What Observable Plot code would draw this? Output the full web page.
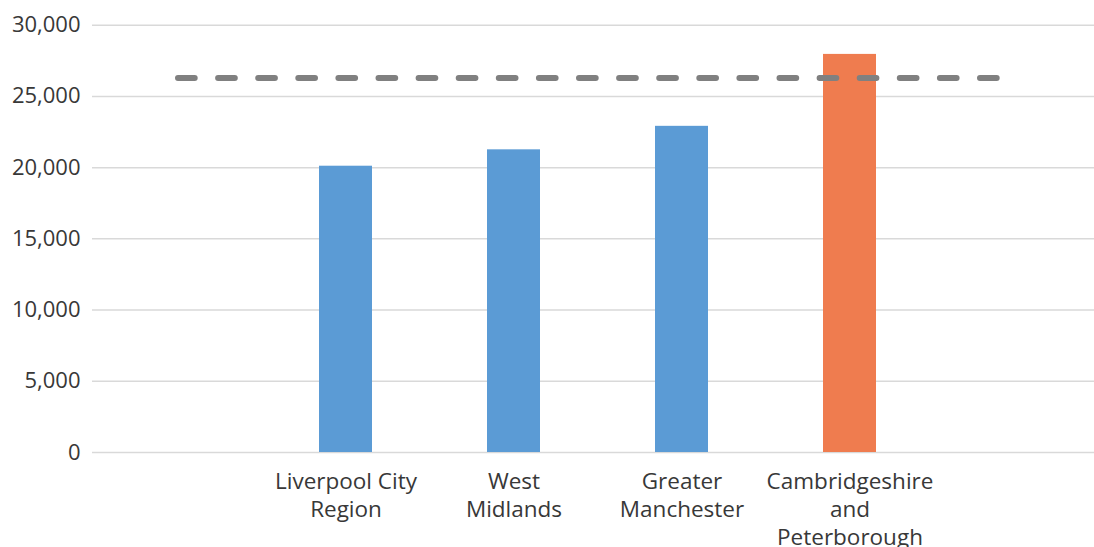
<!DOCTYPE html>
<html><head><meta charset="utf-8">
<script src="https://cdn.jsdelivr.net/npm/d3@7"></script>
<script src="https://cdn.jsdelivr.net/npm/@observablehq/plot@0.6"></script>
<style>body{margin:0;background:#fff;overflow:hidden;}</style>
</head><body><div id="chart"></div>
<script>
const categories = ["", "Liverpool City Region", "West Midlands", "Greater Manchester", "Cambridgeshire and Peterborough", " "];
const tickLabels = ["", "Liverpool City\nRegion", "West\nMidlands", "Greater\nManchester", "Cambridgeshire\nand\nPeterborough", ""];
const values = [null, 20100, 21250, 22900, 27950, null];
const barColors = [null, "#5b9bd5", "#5b9bd5", "#5b9bd5", "#ef7c4f", null];
const benchmark = [26300, 26300, 26300, 26300, 26300, 26300];
const yTicks = [0, 5000, 10000, 15000, 20000, 25000, 30000];

const bars = categories.map((c, i) => ({category: c, value: values[i], color: barColors[i]})).filter(d => d.value != null);
const line = categories.map((c, i) => ({category: c, value: benchmark[i]}));

const chart = Plot.plot({
  width: 1094, height: 547,
  marginLeft: 92, marginRight: -8, marginTop: 24.7, marginBottom: 95,
  style: {fontFamily: "'Open Sans'", fontSize: "22px", color: "#383838", background: "#fff"},
  x: {domain: categories, paddingInner: 0.687, paddingOuter: 0.3435, axis: null, label: null},
  y: {domain: [0, 30000], axis: null, label: null},
  marks: [
    Plot.gridY(yTicks, {stroke: "#d9d9d9", strokeOpacity: 1, strokeWidth: 1.5}),
    Plot.axisY(yTicks, {tickSize: 0, tickPadding: 12, tickFormat: d => d3.format(",")(d), fontSize: 22, label: null}),
    Plot.axisX({tickSize: 0, tickPadding: 17, tickFormat: d => tickLabels[categories.indexOf(d)], lineHeight: 1.24, fontSize: 22.5, label: null}),
    Plot.barY(bars, {x: "category", y: "value", fill: "color"}),
    Plot.lineY(line, {x: "category", y: "value", stroke: "#808080", strokeWidth: 6, strokeDasharray: "16.7,23.4", strokeLinecap: "round"})
  ]
});
document.getElementById("chart").appendChild(chart);
</script>
</body></html>
